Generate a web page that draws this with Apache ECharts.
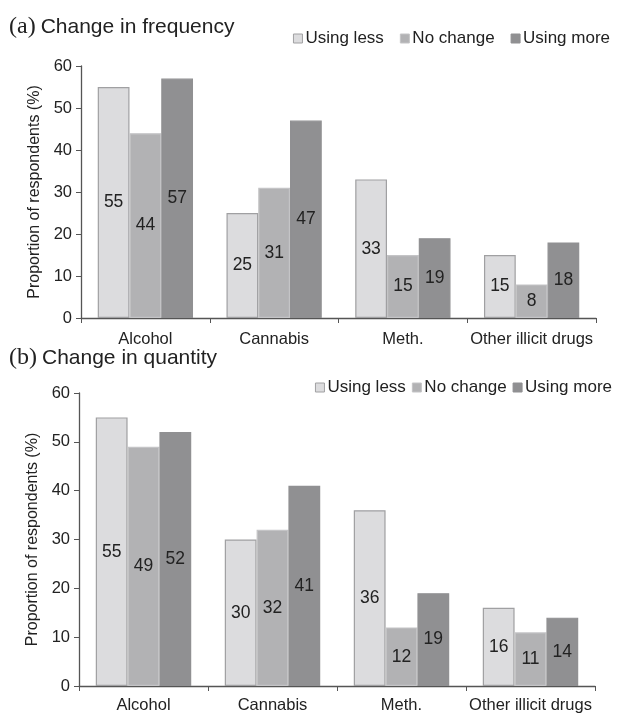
<!DOCTYPE html>
<html><head><meta charset="utf-8">
<script src="https://cdn.jsdelivr.net/npm/echarts@6/dist/echarts.min.js"></script>
<style>html,body{margin:0;padding:0;background:#fff}#c{width:619px;height:714px}</style>
</head><body><div id="c"></div>
<script>
const categories = ['Alcohol', 'Cannabis', 'Meth.', 'Other illicit drugs'];
const seriesNames = ['Using less', 'No change', 'Using more'];
const freqLess = [55, 25, 33, 15];
const freqNoChange = [44, 31, 15, 8];
const freqMore = [57, 47, 19, 18];
const qtyLess = [55, 30, 36, 16];
const qtyNoChange = [49, 32, 12, 11];
const qtyMore = [52, 41, 19, 14];
const yTicks = [0, 10, 20, 30, 40, 50, 60];

const colors = ['#dcdcde', '#b2b2b4', '#909092'];
const borders = ['#a0a0a2', '#c4c4c6', '#909092'];
const font = '"Liberation Sans", Arial, sans-serif';

function mkSeries(name, data, idx, gi) {
  return {
    type: 'bar', name: name, data: data,
    xAxisIndex: gi, yAxisIndex: gi,
    barGap: '0%', barCategoryGap: '26%',
    itemStyle: { color: colors[idx], borderColor: borders[idx], borderWidth: 1.2 },
    label: { show: true, position: 'inside', color: '#222', fontSize: 17.5, fontFamily: font },
    emphasis: { disabled: true }
  };
}
function xAx(gi, margin) {
  return {
    type: 'category', gridIndex: gi, data: categories,
    axisLine: { lineStyle: { color: '#555', width: 1.3 } },
    axisTick: { show: true, inside: false, length: 5, lineStyle: { color: '#555' } },
    axisLabel: { color: '#222', fontSize: 16.5, fontFamily: font, margin: margin, interval: 0 }
  };
}
function yAx(gi) {
  return {
    type: 'value', gridIndex: gi, min: yTicks[0], max: yTicks[yTicks.length - 1], interval: 10,
    name: 'Proportion of respondents (%)', nameLocation: 'middle', nameGap: 38,
    nameTextStyle: { color: '#222', fontSize: 16, fontFamily: font },
    axisLine: { show: true, lineStyle: { color: '#555', width: 1.3 } },
    axisTick: { show: true, inside: false, length: 5, lineStyle: { color: '#555' } },
    axisLabel: { color: '#222', fontSize: 16.5, fontFamily: font, margin: 9 },
    splitLine: { show: false }
  };
}
function legendFor(extra) {
  return Object.assign({
    data: seriesNames.map((n, i) => ({ name: n, itemStyle: { color: colors[i], borderColor: borders[i], borderWidth: 1 } })),
    icon: 'rect', itemWidth: 9, itemHeight: 9,
    textStyle: { color: '#222', fontSize: 17, fontFamily: font, padding: [0, 0, 0, -2] },
    selectedMode: false
  }, extra);
}
const titleRich = { s: { fontFamily: '"Liberation Serif", serif', fontSize: 24, color: '#222' }, t: { fontFamily: font, fontSize: 21, color: '#222' } };
const chart = echarts.init(document.getElementById('c'));
chart.setOption({
  animation: false,
  title: [
    { text: '{s|(a)} {t|Change in frequency}', left: 4, top: 10, textStyle: { fontWeight: 'normal', rich: titleRich } },
    { text: '{s|(b)} {t|Change in quantity}', left: 4, top: 341, textStyle: { fontWeight: 'normal', rich: titleRich } }
  ],
  legend: [
    legendFor({ right: 4, top: 25, itemGap: 16 }),
    legendFor({ right: 2, top: 374, itemGap: 6 })
  ],
  grid: [
    { left: 81, top: 66, width: 515, height: 252, outerBoundsMode: 'none' },
    { left: 79, top: 393, width: 516, height: 293, outerBoundsMode: 'none' }
  ],
  xAxis: [xAx(0, 13), xAx(1, 11)],
  yAxis: [yAx(0), yAx(1)],
  series: [
    mkSeries(seriesNames[0], freqLess, 0, 0),
    mkSeries(seriesNames[1], freqNoChange, 1, 0),
    mkSeries(seriesNames[2], freqMore, 2, 0),
    mkSeries(seriesNames[0], qtyLess, 0, 1),
    mkSeries(seriesNames[1], qtyNoChange, 1, 1),
    mkSeries(seriesNames[2], qtyMore, 2, 1)
  ]
});
</script></body></html>
